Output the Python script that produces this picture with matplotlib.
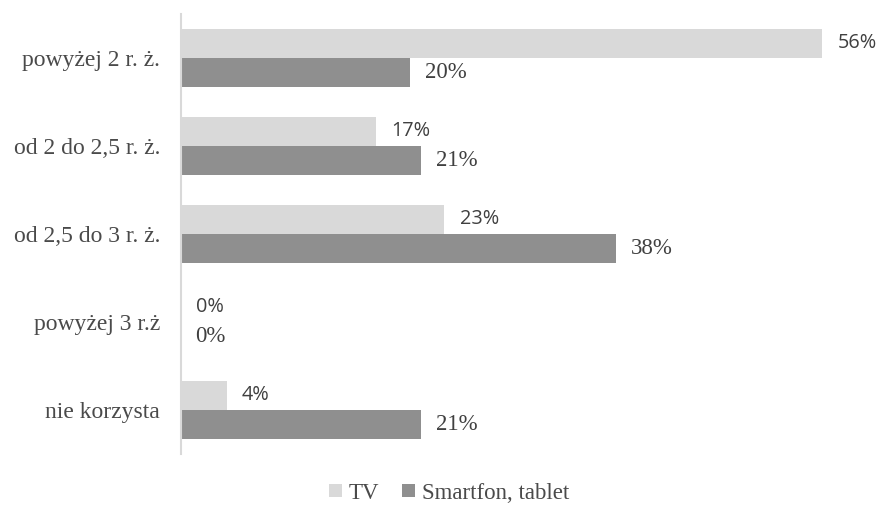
import numpy as np
import matplotlib.pyplot as plt

categories = ["powyżej 2 r. ż.", "od 2 do 2,5 r. ż.", "od 2,5 do 3 r. ż.", "powyżej 3 r.ż", "nie korzysta"]
tv = [56, 17, 23, 0, 4]
smart = [20, 21, 38, 0, 21]

tv_color = "#d9d9d9"
smart_color = "#8f8f8f"

fig = plt.figure(figsize=(8.79, 5.15), dpi=100)
ax = fig.add_axes([181 / 879, 61 / 515, 687 / 879, 440 / 515])

y = np.arange(len(categories))
h = 0.33
ax.barh(y - h / 2, tv, height=h, color=tv_color, label="TV")
ax.barh(y + h / 2, smart, height=h, color=smart_color, label="Smartfon, tablet")

for yi, v in zip(y, tv):
    ax.annotate(f"{v}%", (v, yi - h / 2), xytext=(11, 0), textcoords="offset points",
                va="center", ha="left", fontsize=14.3, family="Open Sans", color="#404040")
for yi, v in zip(y, smart):
    ax.annotate(f"{v}%", (v, yi + h / 2), xytext=(10.5, 0), textcoords="offset points",
                va="center", ha="left", fontsize=16.5, family="Liberation Serif", color="#404040")

ax.set_xlim(0, 60)
ax.set_ylim(4.5, -0.5)
ax.set_yticks(y)
ax.set_yticklabels(categories, family="Liberation Serif", fontsize=17, color="#4a4a4a")
ax.tick_params(axis="y", length=0, pad=15)
ax.set_xticks([])
for s in ["top", "right", "bottom"]:
    ax.spines[s].set_visible(False)
ax.spines["left"].set_color("#d9d9d9")
ax.spines["left"].set_linewidth(1.5)

leg = fig.legend(loc="lower center", bbox_to_anchor=(0.511, -0.018), ncol=2, frameon=False,
                 prop={"family": "Liberation Serif", "size": 16.5},
                 handlelength=0.55, handleheight=0.55, handletextpad=0.3, columnspacing=1.0)
for t in leg.get_texts():
    t.set_color("#4a4a4a")

fig.savefig("out.png", dpi=100)
